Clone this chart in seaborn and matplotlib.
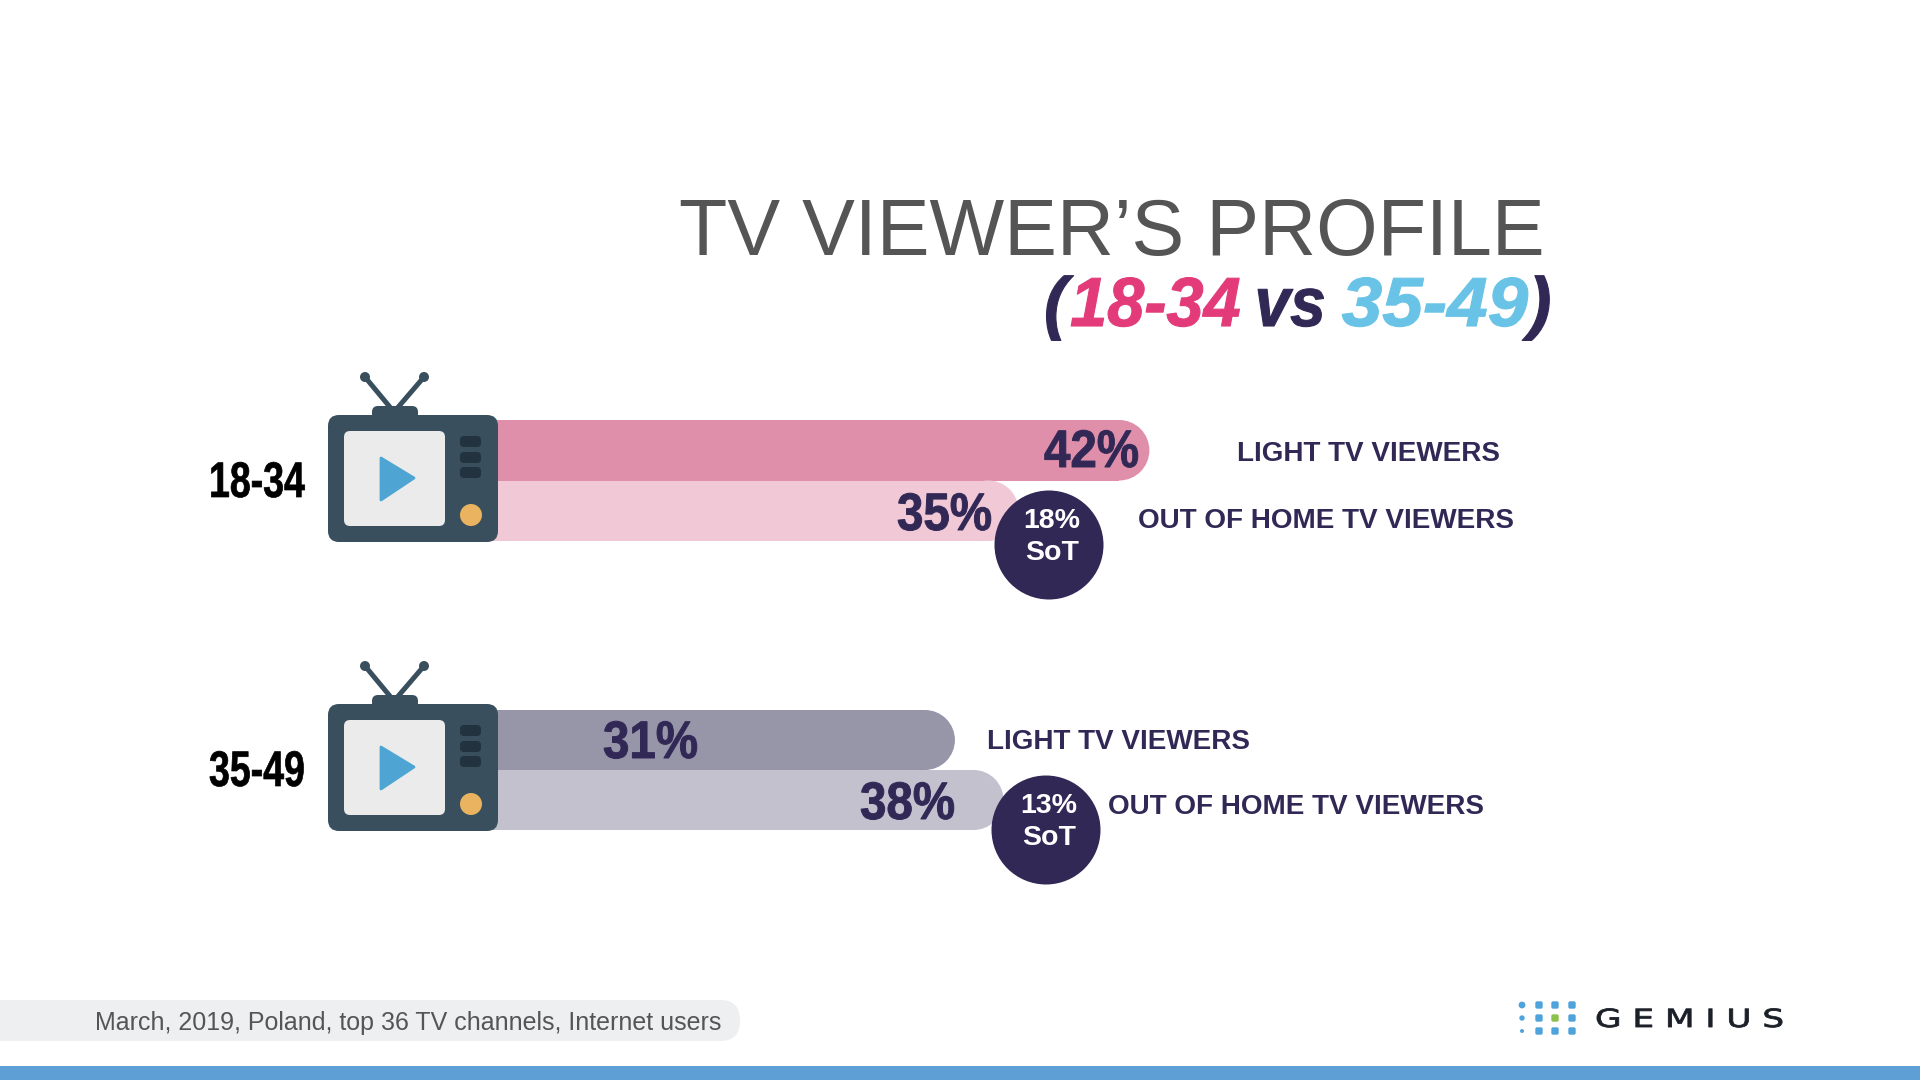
"""TV viewer's profile: light vs out-of-home viewers, by age group."""
import matplotlib

matplotlib.use("Agg")
import matplotlib.pyplot as plt
import pandas as pd
import seaborn as sns
from matplotlib.patches import Circle, FancyBboxPatch, Polygon, Rectangle
from matplotlib.patheffects import AbstractPathEffect
from matplotlib.transforms import Affine2D

age_groups = ["18-34", "35-49"]
segments = ["LIGHT TV VIEWERS", "OUT OF HOME TV VIEWERS"]
shares_young = [42, 35]
shares_older = [31, 38]
# drawn lengths on the young group's scale; the 38% bar is drawn shorter than its label in the source
lengths_young = [42, 35]
lengths_older = [31.6, 34.2]
sot_shares = [18, 13]

NAVY = "#312856"
GREY = "#555555"
COLORS_YOUNG = ["#e08fab", "#f0c8d6"]
COLORS_OLDER = ["#9795a8", "#c3c1ce"]
SANS = "Liberation Sans"

sns.set_theme(style="white")
plt.rcParams["font.family"] = [SANS, "DejaVu Sans"]

W, H = 1920, 1080
fig = plt.figure(figsize=(W / 100, H / 100), dpi=100, facecolor="white")

over = fig.add_axes([0, 0, 1, 1], zorder=5)
over.set_xlim(0, W)
over.set_ylim(H, 0)
over.axis("off")


class Squeeze(AbstractPathEffect):
    """Scale glyphs horizontally from the text's left edge; no condensed font is installed."""

    def __init__(self, sx, lw=0.0):
        super().__init__()
        self.sx = sx
        self.lw = lw

    def draw_path(self, renderer, gc, tpath, affine, rgbFace=None):
        gc.set_linewidth(self.lw)
        renderer.draw_path(gc, tpath, Affine2D().scale(self.sx, 1) + affine, rgbFace)


def bar_axes(top, bottom):
    # x scale: 0 hidden behind the TV at px 364, 18.7 px per unit
    return fig.add_axes([364 / W, 1 - bottom / H, 1122 / W, (bottom - top) / H], zorder=1)


def rounded_bars(ax, lengths, colors):
    df = pd.DataFrame({"segment": segments, "length": lengths})
    sns.barplot(data=df, x="length", y="segment", hue="segment", palette=colors,
                width=1, saturation=1, legend=False, ax=ax)
    ax.set_xlim(0, 60)
    ax.set_ylim(1.5, -0.5)
    ax.axis("off")
    to_px = ax.transData + over.transData.inverted()
    for patch in list(ax.patches):
        x, y = patch.get_xy()
        (x0, y0), (x1, y1) = to_px.transform([(x, y), (x + patch.get_width(), y + patch.get_height())])
        top, bottom = min(y0, y1), max(y0, y1)
        r = (bottom - top) / 2
        fc = patch.get_facecolor()
        over.add_patch(Rectangle((x0, top), x1 - x0 - r, bottom - top, fc=fc, ec="none", zorder=1))
        over.add_patch(Circle((x1 - r, top + r), r, fc=fc, ec="none", zorder=1))
        patch.set_visible(False)


def draw_tv(dy):
    dark, body = "#22333f", "#3a4f5e"
    for tip in (365, 424):
        over.plot([394, tip], [412 + dy, 377 + dy], color=body, lw=3.6, zorder=2)
        over.add_patch(Circle((tip, 377 + dy), 5, fc=body, ec="none", zorder=2))
    over.add_patch(FancyBboxPatch((372, 406 + dy), 46, 14, boxstyle="round,pad=0,rounding_size=6",
                                  fc=body, ec="none", zorder=2))
    over.add_patch(FancyBboxPatch((328, 415 + dy), 170, 127, boxstyle="round,pad=0,rounding_size=11",
                                  fc=body, ec="none", zorder=3))
    over.add_patch(FancyBboxPatch((344, 431 + dy), 101, 95, boxstyle="round,pad=0,rounding_size=6",
                                  fc="#ebebeb", ec="none", zorder=4))
    over.add_patch(Polygon([(381, 458 + dy), (414, 478 + dy), (381, 500 + dy)], fc="#4ea5d3", ec="#4ea5d3",
                           lw=2, joinstyle="round", zorder=5))
    for top in (436, 452, 467):
        over.add_patch(FancyBboxPatch((460, top + dy), 21, 11, boxstyle="round,pad=0,rounding_size=4",
                                      fc=dark, ec="none", zorder=4))
    over.add_patch(Circle((471, 515 + dy), 11, fc="#e9b35f", ec="none", zorder=4))


# bars
rounded_bars(bar_axes(420, 541), lengths_young, COLORS_YOUNG)
rounded_bars(bar_axes(710, 830), lengths_older, COLORS_OLDER)

# TV icons and age labels
for dy, age, y in zip((0, 289), age_groups, (484, 773)):
    draw_tv(dy)
    over.text(209, y, age, ha="left", va="center", weight="bold", fontsize=36, color="black", zorder=6,
              path_effects=[Squeeze(0.75, lw=0.5)])

# value labels
value_style = dict(ha="left", va="center", weight="bold", fontsize=38, color=NAVY, zorder=6,
                   path_effects=[Squeeze(0.9, lw=0.7)])
over.text(1044, 453, f"{shares_young[0]}%", **value_style)
over.text(897, 516, f"{shares_young[1]}%", **value_style)
over.text(603, 744, f"{shares_older[0]}%", **value_style)
over.text(860, 805, f"{shares_older[1]}%", **value_style)

# segment labels
label_style = dict(va="center", weight="bold", fontsize=20.1, color=NAVY, zorder=6)
over.text(1237, 454, segments[0], **label_style)
over.text(1138, 521, segments[1], **label_style)
over.text(987, 742, segments[0], **label_style)
over.text(1108, 807, segments[1], **label_style)

# share-of-time bubbles
for (cx, cy), sot in zip(((1049, 545), (1046, 830)), sot_shares):
    over.add_patch(Circle((cx, cy), 54.5, fc=NAVY, ec="none", zorder=6))
    over.text(cx + 3, cy - 24, f"{sot}%", ha="center", va="center", weight="bold", fontsize=20.5,
              color="white", zorder=7)
    over.text(cx + 3, cy + 8, "SoT", ha="center", va="center", weight="bold", fontsize=20.5,
              color="white", zorder=7)

# title
over.text(1545, 234, "TV VIEWER\u2019S PROFILE", ha="right", va="center", fontsize=57, color=GREY)

renderer = fig.canvas.get_renderer()
x = 1044
for part, color, sx, gap in [("(", NAVY, 1.0, 3), ("18-34", "#e33b7a", 0.96, 14), ("vs", NAVY, 0.92, 16),
                             ("35-49", "#68c3e6", 1.05, 0), (")", NAVY, 1.0, 0)]:
    t = over.text(x, 308, part, ha="left", va="center", fontsize=50, weight="bold", style="italic", color=color,
                  path_effects=[Squeeze(sx, lw=0.8)])
    x += t.get_window_extent(renderer).width * sx + gap

# footer
over.add_patch(FancyBboxPatch((-40, 1000), 780, 41, boxstyle="round,pad=0,rounding_size=20",
                              fc="#eeeff0", ec="none", zorder=1))
over.text(95, 1023, "March, 2019, Poland, top 36 TV channels, Internet users", va="center",
          fontsize=18, color=GREY, zorder=2)
over.add_patch(Rectangle((0, 1066), W, 14, fc="#5ea0d5", ec="none", zorder=1))

# logo
for col, cx in enumerate((1522, 1539, 1555, 1572)):
    for row, cy in enumerate((1005, 1018, 1031)):
        if col == 0:
            over.add_patch(Circle((cx, cy), 3.4 - 0.7 * row, fc="#4fa3dc", ec="none"))
        else:
            fc = "#8dc04a" if (col, row) == (2, 1) else "#4fa3dc"
            over.add_patch(FancyBboxPatch((cx - 3.7, cy - 3.7), 7.4, 7.4, boxstyle="round,pad=0,rounding_size=1.8",
                                          fc=fc, ec="none"))
over.text(1595, 1020, "G E M I U S", ha="left", va="center", family="DejaVu Sans", fontsize=18,
          color="#1b1f27", path_effects=[Squeeze(1.37, lw=0.6)])

fig.savefig("out.png", dpi=100)
